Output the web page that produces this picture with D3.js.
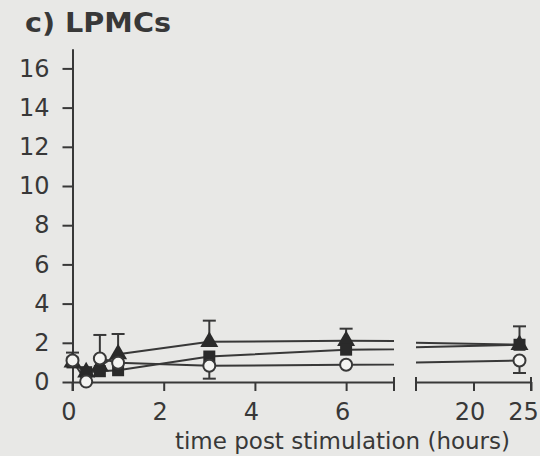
<!DOCTYPE html>
<html><head><meta charset="utf-8">
<script src="https://cdn.jsdelivr.net/npm/d3@7"></script>
<style>html,body{margin:0;padding:0;background:#e8e8e6;}svg{display:block;}</style>
</head><body><svg id="c" width="540" height="456"></svg>
<script>
const times = [0, 0.3, 0.6, 1, 3, 6, 24];
const triangleVals = [1.0, 0.5, 0.8, 1.42, 2.05, 2.1, 1.9];
const squareVals   = [1.0, 0.5, 0.55, 0.6, 1.3, 1.65, 1.9];
const circleVals   = [1.1, 0.02, 1.2, 0.98, 0.83, 0.88, 1.1];
const errUpper = [1.5, null, 2.4, 2.45, 3.13, 2.72, 2.84];
const errLower = [null, null, null, null, 0.17, null, 0.46];
const yTicks = [0, 2, 4, 6, 8, 10, 12, 14, 16];
const xTicksLeft = [0, 2, 4, 6];
const xTicksRight = [20, 25];
const title = "c) LPMCs";
const xTitle = "time post stimulation (hours)";

const ink = "#383838";
const svg = d3.select("#c");
svg.append("rect").attr("width",540).attr("height",456).attr("fill","#e8e8e6");

const y = d3.scaleLinear().domain([0,17]).range([382, 48.8]);
const xL = d3.scaleLinear().domain([0,7.05]).range([72.5, 394]);
const xR = d3.scaleLinear().domain([15,25]).range([416, 531]);
const font = "'DejaVu Sans', sans-serif";

// title
svg.append("text").attr("x",25).attr("y",31.5).text(title)
  .attr("font-family",font).attr("font-weight","bold").attr("font-size",27)
  .attr("textLength",146).attr("lengthAdjust","spacingAndGlyphs").attr("fill",ink);

// y axis
const yAxis = svg.append("g").attr("transform",`translate(${xL(0)},0)`)
  .call(d3.axisLeft(y).tickValues(yTicks).tickFormat(d3.format("d")).tickSize(10).tickSizeOuter(0).tickPadding(13));
yAxis.select(".domain").attr("stroke",ink).attr("stroke-width",2);
yAxis.selectAll(".tick line").attr("stroke",ink).attr("stroke-width",2);
yAxis.selectAll(".tick text").attr("font-family",font).attr("font-size",24).attr("fill",ink);
// extend y axis down through x axis
svg.append("line").attr("x1",xL(0)).attr("x2",xL(0)).attr("y1",y(0)).attr("y2",y(0)+9)
  .attr("stroke",ink).attr("stroke-width",2);

function xAxisSeg(scale, ticks){
  const g = svg.append("g").attr("transform",`translate(0,${y(0)})`)
    .call(d3.axisBottom(scale).tickValues(ticks).tickFormat(d3.format("d")).tickSize(9).tickSizeOuter(0).tickPadding(12));
  g.select(".domain").attr("stroke",ink).attr("stroke-width",2);
  g.selectAll(".tick line").attr("stroke",ink).attr("stroke-width",2);
  g.selectAll(".tick text").attr("font-family",font).attr("font-size",24).attr("fill",ink)
    .attr("dx", d => d === 25 ? -8 : -4);
  return g;
}
xAxisSeg(xL, xTicksLeft);
xAxisSeg(xR, xTicksRight);
// segment end caps
[[xL,7.05],[xR,15],[xR,25]].forEach(([s,v])=>{
  svg.append("line").attr("x1",s(v)).attr("x2",s(v)).attr("y1",y(0)-5).attr("y2",y(0)+9)
    .attr("stroke",ink).attr("stroke-width",2);
});

svg.append("text").attr("x",342.5).attr("y",449).attr("text-anchor","middle").text(xTitle)
  .attr("font-family",font).attr("font-size",23).attr("fill",ink);

// clip paths
const defs = svg.append("defs");
defs.append("clipPath").attr("id","clipL").append("rect").attr("x",60).attr("y",0).attr("width",xL(7.05)-60).attr("height",456);
defs.append("clipPath").attr("id","clipR").append("rect").attr("x",xR(15)).attr("y",0).attr("width",140).attr("height",456);

const seriesList = [triangleVals, squareVals, circleVals];
[["clipL",xL],["clipR",xR]].forEach(([cid,sx])=>{
  const g = svg.append("g").attr("clip-path",`url(#${cid})`);
  const line = d3.line().x((d,i)=>sx(times[i])).y(d=>y(d));
  seriesList.forEach(vals=>{
    g.append("path").attr("d",line(vals)).attr("fill","none").attr("stroke",ink).attr("stroke-width",2);
  });
  // error bars
  times.forEach((t,i)=>{
    if (t > sx.domain()[1] || t < sx.domain()[0]) return;
    const cx = sx(t);
    const base = d3.max([triangleVals[i],squareVals[i],circleVals[i]]);
    const low = d3.min([triangleVals[i],squareVals[i],circleVals[i]]);
    if (errUpper[i] != null){
      g.append("line").attr("x1",cx).attr("x2",cx).attr("y1",y(errUpper[i])).attr("y2",y(base)).attr("stroke",ink).attr("stroke-width",2);
      g.append("line").attr("x1",cx-6.5).attr("x2",cx+6.5).attr("y1",y(errUpper[i])).attr("y2",y(errUpper[i])).attr("stroke",ink).attr("stroke-width",2);
    }
    if (errLower[i] != null){
      g.append("line").attr("x1",cx).attr("x2",cx).attr("y1",y(errLower[i])).attr("y2",y(low)).attr("stroke",ink).attr("stroke-width",2);
      g.append("line").attr("x1",cx-6.5).attr("x2",cx+6.5).attr("y1",y(errLower[i])).attr("y2",y(errLower[i])).attr("stroke",ink).attr("stroke-width",2);
    }
  });
  // markers
  times.forEach((t,i)=>{
    if (t > sx.domain()[1] || t < sx.domain()[0]) return;
    const cx = sx(t);
    g.append("path").attr("d",d3.symbol(d3.symbolTriangle,140)()).attr("transform",`translate(${cx},${y(triangleVals[i])})`).attr("fill","#2a2a2a");
    g.append("rect").attr("x",cx-6).attr("y",y(squareVals[i])-6).attr("width",12).attr("height",12).attr("fill","#2a2a2a");
    g.append("circle").attr("cx",cx).attr("cy",y(circleVals[i])).attr("r",6).attr("fill","#f4f4f2").attr("stroke",ink).attr("stroke-width",2);
  });
});
</script></body></html>
